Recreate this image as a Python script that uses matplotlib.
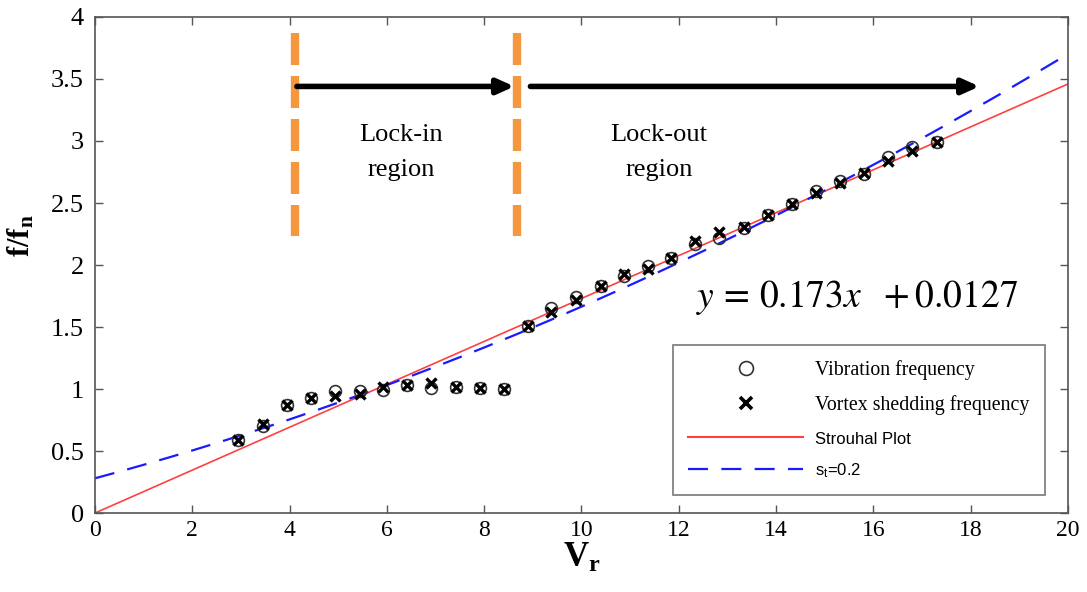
import numpy as np
import matplotlib
matplotlib.use("Agg")
import matplotlib.pyplot as plt
from matplotlib.lines import Line2D

plt.rcParams['font.family'] = ['Liberation Serif', 'DejaVu Serif']
plt.rcParams['mathtext.fontset'] = 'custom'
plt.rcParams['mathtext.rm'] = 'Liberation Serif'
plt.rcParams['mathtext.it'] = 'Liberation Serif:italic'
plt.rcParams['mathtext.bf'] = 'Liberation Serif:bold'

# ---- data ----
vr = [2.94, 3.45, 3.95, 4.44, 4.93, 5.45, 5.92, 6.41, 6.91, 7.42, 7.91, 8.41,
      8.90, 9.37, 9.89, 10.40, 10.87, 11.37, 11.84, 12.33, 12.83, 13.34, 13.83,
      14.33, 14.82, 15.31, 15.80, 16.30, 16.80, 17.30]
vib_freq = [0.59, 0.70, 0.87, 0.93, 0.98, 0.98, 0.99, 1.03, 1.01, 1.02, 1.01, 1.00,
            1.51, 1.65, 1.74, 1.83, 1.91, 1.99, 2.06, 2.17, 2.22, 2.30, 2.40,
            2.49, 2.60, 2.68, 2.73, 2.87, 2.95, 2.99]
vortex_freq = [0.59, 0.72, 0.87, 0.93, 0.94, 0.96, 1.02, 1.03, 1.05, 1.02, 1.01, 1.00,
               1.51, 1.62, 1.72, 1.83, 1.93, 1.97, 2.06, 2.19, 2.27, 2.31, 2.40,
               2.49, 2.58, 2.66, 2.74, 2.84, 2.92, 2.99]
strouhal_coef = [0.173, 0.0]          # slope, intercept of Strouhal plot
st02_coef = [0.28, 0.1057, 0.00327]   # a + b x + c x^2 for s_t = 0.2 curve
boundaries = [4.11, 8.67]             # lock-in / lock-out boundaries
xticks = list(range(0, 21, 2))
yticks = [0, 0.5, 1, 1.5, 2, 2.5, 3, 3.5, 4]
ytick_labels = ['0', '0.5', '1', '1.5', '2', '2.5', '3', '3.5', '4']

fig = plt.figure(figsize=(10.87, 5.92), dpi=100)
ax = fig.add_axes([0.0874, 0.1334, 0.8951, 0.8379])

xl = np.linspace(0, 20, 200)
ax.plot(xl, strouhal_coef[0] * xl + strouhal_coef[1], color='#ff4040', lw=1.2, zorder=2)
ax.plot(xl, st02_coef[0] + st02_coef[1] * xl + st02_coef[2] * xl ** 2,
        color='#1a1aff', lw=1.6, dashes=(9, 6), zorder=2)

ax.plot(vr, vib_freq, linestyle='none', marker='o', mfc='none', mec='#333333',
        ms=8.5, mew=1.2, zorder=3)
ax.plot(vr, vortex_freq, linestyle='none', marker='x', color='black',
        ms=7, mew=2.4, zorder=4)

# orange boundary lines
for b in boundaries:
    ax.plot([b, b], [3.87, 2.23], color='#f5973f', lw=6, dashes=(3.84, 1.32),
            solid_capstyle='butt', dash_capstyle='butt', zorder=3)

# arrows
arrowprops = dict(arrowstyle='-|>,head_length=1.0,head_width=0.45', color='black',
                  lw=4, shrinkA=0, shrinkB=0)
ax.annotate('', xy=(8.62, 3.44), xytext=(4.15, 3.44), arrowprops=arrowprops)
ax.annotate('', xy=(18.18, 3.44), xytext=(8.95, 3.44), arrowprops=arrowprops)

ax.text(6.3, 2.91, 'Lock-in\nregion', ha='center', va='center', fontsize=19,
        linespacing=1.75)
ax.text(11.59, 2.91, 'Lock-out\nregion', ha='center', va='center', fontsize=19,
        linespacing=1.75)
ax.text(12.35, 1.74, r'$y\,=\,0.173x\ \ +0.0127$', fontsize=27, ha='left',
        va='center', family=['DejaVu Serif'], math_fontfamily='stix')

ax.set_xlim(0, 20)
ax.set_ylim(0, 4)
ax.set_xticks(xticks)
ax.set_yticks(yticks)
ax.set_yticklabels(ytick_labels)
ax.tick_params(direction='in', length=6, width=1, top=True, right=True,
               color='#555555')
ax.tick_params(axis='y', labelsize=19, pad=8)
ax.tick_params(axis='x', labelsize=17, pad=5)
for s in ax.spines.values():
    s.set_color('#555555')
    s.set_linewidth(1.2)

ax.set_xlabel(r'$\mathbf{V_r}$', fontsize=25)
ax.xaxis.set_label_coords(0.5, -0.058)
ax.set_ylabel(r'$\mathbf{f/f_n}$', fontsize=22)
ax.yaxis.set_label_coords(-0.06, 0.56)

handles = [
    Line2D([], [], linestyle='none', marker='o', mfc='none', mec='#333333', ms=10, mew=1.2),
    Line2D([], [], linestyle='none', marker='x', color='black', ms=8, mew=2.6),
    Line2D([], [], color='#ff4040', lw=1.5),
    Line2D([], [], color='#1a1aff', lw=1.6, dashes=(9, 6)),
]
labels = ['Vibration frequency', 'Vortex shedding frequency', 'Strouhal Plot',
          r'$\mathregular{s_t}$=0.2']
leg = ax.legend(handles, labels, loc='lower right', bbox_to_anchor=(0.976, 0.036),
                fontsize=14.3, handlelength=5.8, handletextpad=0.6, labelspacing=0.75,
                borderpad=0.75, borderaxespad=0, frameon=True, fancybox=False,
                edgecolor='#555555')
leg.get_frame().set_linewidth(1.2)
txts = leg.get_texts()
for t in txts[2:]:
    t.set_family(['Liberation Sans', 'DejaVu Sans'])
    t.set_fontsize(12)

fig.savefig('out.png', dpi=100)
